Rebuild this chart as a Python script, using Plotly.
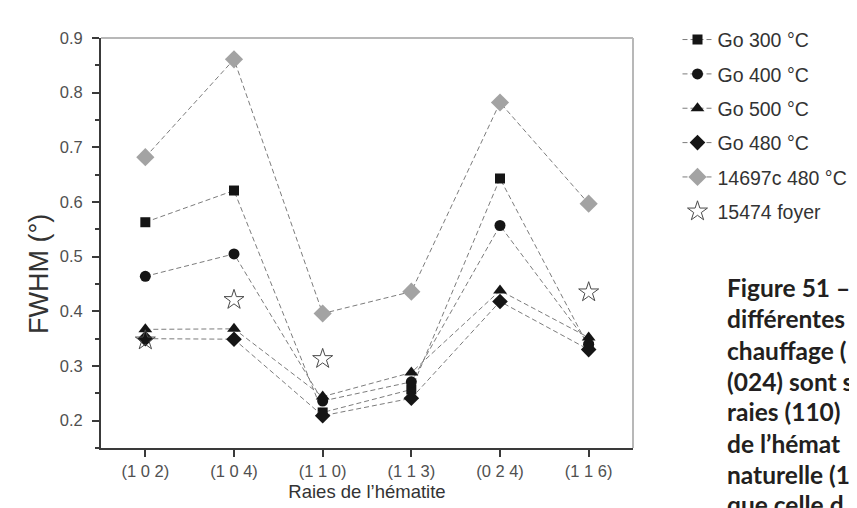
import plotly.graph_objects as go

categories = ["(1 0 2)", "(1 0 4)", "(1 1 0)", "(1 1 3)", "(0 2 4)", "(1 1 6)"]
go300 = [0.563, 0.621, 0.215, 0.257, 0.643, 0.335]
go400 = [0.464, 0.505, 0.236, 0.271, 0.557, 0.340]
go500 = [0.367, 0.368, 0.244, 0.288, 0.438, 0.352]
go480 = [0.350, 0.349, 0.209, 0.241, 0.418, 0.330]
s14697 = [0.682, 0.861, 0.396, 0.436, 0.782, 0.597]
s15474 = [0.347, 0.421, 0.313, None, None, 0.435]

caption_lines = ["Figure 51 –", "différentes", "chauffage (", "(024) sont s",
                 "raies (110)", "de l’hémat", "naturelle (1", "que celle d"]

LINE = dict(color="#7c7c7c", width=1, dash="5px,3px")
fig = go.Figure()

series = [
    ("Go 300 °C", go300, dict(symbol="square", size=10, color="#151515")),
    ("Go 400 °C", go400, dict(symbol="circle", size=11, color="#151515")),
    ("Go 500 °C", go500, dict(symbol="triangle-up", size=12, color="#151515")),
    ("Go 480 °C", go480, dict(symbol="diamond", size=12, color="#151515")),
    ("14697c 480 °C", s14697, dict(symbol="diamond", size=14, color="#a3a3a3")),
]
for i, (name, vals, mk) in enumerate(series):
    fig.add_trace(go.Scatter(x=categories, y=vals, name=name, mode="lines+markers",
                             line=LINE, marker=mk, legendgroup=f"g{i}"))
fig.add_trace(go.Scatter(x=categories, y=s15474, name="15474 foyer", mode="markers",
                         marker=dict(symbol="star-open", size=15, color="#4a4a4a",
                                     line=dict(width=1, color="#4a4a4a")),
                         legendgroup="g5"))

L, T, R, B = 93, 21, 643, 440
W, H = 857, 508
plot_w, plot_h = R - L, B - T

annotations = []
caption_y = [276, 308, 340, 372, 403, 435, 467, 498]
for txt, yy in zip(caption_lines, caption_y):
    annotations.append(dict(text=txt, xref="paper", yref="paper",
                            x=(738 - L) / plot_w, y=(B - yy) / plot_h,
                            xanchor="left", yanchor="middle", showarrow=False,
                            font=dict(family="Lato", size=24.5, color="#231f20",
                                      weight="bold")))
# y-axis title (placed lower than the axis centre, as in the reference)
annotations.append(dict(text="FWHM (°)", xref="paper", yref="paper",
                        x=(29 - L) / plot_w, y=(B - 262) / plot_h, textangle=-90,
                        xanchor="center", yanchor="middle", showarrow=False,
                        font=dict(size=27, color="#333")))

fig.update_layout(
    width=W, height=H,
    margin=dict(l=L, r=W - R, t=T, b=H - B),
    paper_bgcolor="white", plot_bgcolor="white",
    font=dict(family="Liberation Sans, Arial", color="#444"),
    showlegend=True,
    legend=dict(x=(689 - L) / plot_w, y=1.043, xanchor="left", yanchor="top",
                xref="paper", yref="paper",
                font=dict(size=19.5, color="#333"), tracegroupgap=6,
                bgcolor="rgba(0,0,0,0)", itemwidth=30),
    annotations=annotations,
    shapes=[
        dict(type="line", xref="paper", yref="paper", x0=0, x1=1, y0=1, y1=1,
             line=dict(color="#b8b8b8", width=2)),
        dict(type="line", xref="paper", yref="paper", x0=1, x1=1, y0=0, y1=1,
             line=dict(color="#b8b8b8", width=2)),
    ],
)
fig.update_xaxes(type="category", range=[-0.5, 5.5], showline=True,
                 linecolor="#3a3a3a", linewidth=2, ticks="outside", ticklen=7,
                 tickwidth=1.5, tickcolor="#3a3a3a", showgrid=False, zeroline=False,
                 tickfont=dict(size=16.5, color="#505050"),
                 title=dict(text="Raies de l’hématite", font=dict(size=18.5, color="#333"),
                            standoff=6))
fig.update_yaxes(range=[0.15, 0.9], tick0=0.2, dtick=0.1, tickformat=".1f",
                 showline=True, linecolor="#3a3a3a", linewidth=2, ticks="outside",
                 ticklen=7, tickwidth=1.5, tickcolor="#3a3a3a", showgrid=False,
                 zeroline=False, tickfont=dict(size=16.5, color="#505050"),
                 ticklabelstandoff=6,
                 minor=dict(ticks="outside", ticklen=4, tick0=0.15, dtick=0.1,
                            tickcolor="#3a3a3a", tickwidth=1.5))

fig.write_html("out.html")
